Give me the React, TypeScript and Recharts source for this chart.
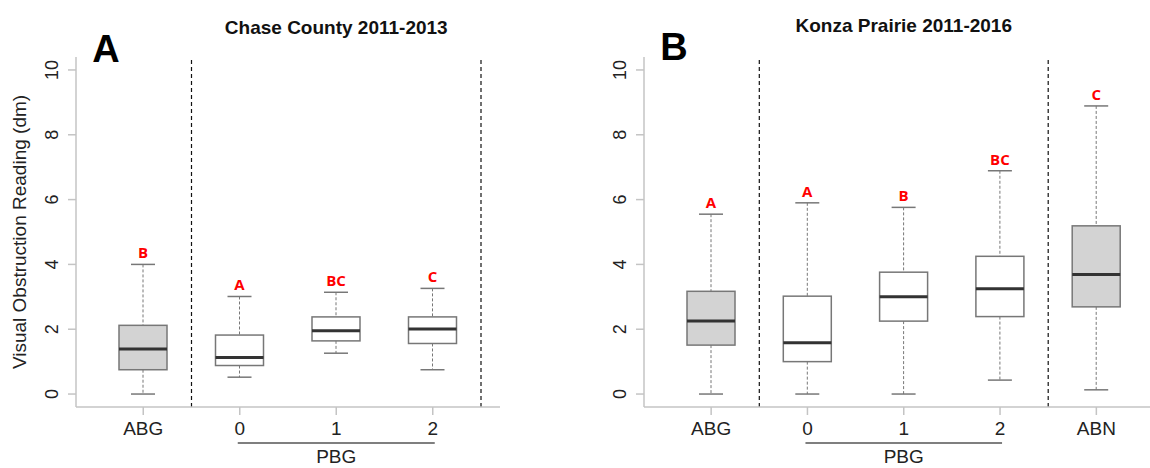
import React from 'react';
import { ComposedChart, Bar, XAxis, YAxis, ReferenceLine, LabelList } from 'recharts';

// Chase County 2011-2013
const catsA = ['ABG', '0', '1', '2'];
const lowA = [0, 0.52, 1.26, 0.75];
const q1A = [0.75, 0.88, 1.64, 1.56];
const medA = [1.39, 1.13, 1.95, 2.01];
const q3A = [2.12, 1.82, 2.38, 2.38];
const highA = [4.0, 3.01, 3.14, 3.26];
const lettersA = ['B', 'A', 'BC', 'C'];

// Konza Prairie 2011-2016
const catsB = ['ABG', '0', '1', '2', 'ABN'];
const lowB = [0, 0, 0, 0.43, 0.13];
const q1B = [1.51, 1.0, 2.25, 2.39, 2.69];
const medB = [2.25, 1.58, 3.0, 3.25, 3.69];
const q3B = [3.17, 3.02, 3.76, 4.25, 5.19];
const highB = [5.55, 5.9, 5.76, 6.89, 8.89];
const lettersB = ['A', 'A', 'B', 'BC', 'C'];

const shadedCats = ['ABG', 'ABN'];
const yTicks = [0, 2, 4, 6, 8, 10];

const FONT = '"Liberation Sans", Arial, sans-serif';
const AXIS_GRAY = '#c4c4c4';

const buildRows = (cats: string[], low: number[], q1: number[], med: number[], q3: number[], high: number[], letters: string[]) =>
  cats.map((name, i) => ({
    name,
    low: low[i],
    q1: q1[i],
    med: med[i],
    q3: q3[i],
    high: high[i],
    letter: letters[i],
    shaded: shadedCats.includes(name),
  }));

const rowsA = buildRows(catsA, lowA, q1A, medA, q3A, highA, lettersA);
const rowsB = buildRows(catsB, lowB, q1B, medB, q3B, highB, lettersB);

const BoxShape = (props: any) => {
  const { x, y, width, height, payload } = props;
  const d = payload;
  const span = d.high - d.low || 1;
  const py = (v: number) => y + (height * (d.high - v)) / span;
  const cx = x + width / 2;
  const cap = width / 4;
  return (
    <g>
      <line x1={cx} x2={cx} y1={py(d.high)} y2={py(d.q3)} stroke="#777" strokeWidth={1} strokeDasharray="3 2" />
      <line x1={cx} x2={cx} y1={py(d.q1)} y2={py(d.low)} stroke="#777" strokeWidth={1} strokeDasharray="3 2" />
      <line x1={cx - cap} x2={cx + cap} y1={py(d.high)} y2={py(d.high)} stroke="#777" strokeWidth={1.5} />
      <line x1={cx - cap} x2={cx + cap} y1={py(d.low)} y2={py(d.low)} stroke="#777" strokeWidth={1.5} />
      <rect x={x} y={py(d.q3)} width={width} height={py(d.q1) - py(d.q3)} fill={d.shaded ? '#d3d3d3' : '#fff'} stroke="#777" strokeWidth={1.5} />
      <line x1={x} x2={x + width} y1={py(d.med)} y2={py(d.med)} stroke="#333" strokeWidth={3} />
    </g>
  );
};

const YTick = (props: any) => {
  const { x, y, payload } = props;
  return (
    <text x={x} y={y} transform={`rotate(-90 ${x} ${y})`} textAnchor="middle" fontSize={18} fontFamily={FONT} fill="#222">
      {payload.value}
    </text>
  );
};

const PAD = 19;
const TOP = 57;
const BOTTOM = 407;

interface PanelProps {
  rows: any[];
  left: number;
  width: number;
  marginLeft: number;
  marginRight: number;
  separators: string[];
}

const BoxPanel: React.FC<PanelProps> = ({ rows, left, width, marginLeft, marginRight, separators }) => (
  <div style={{ position: 'absolute', left, top: 0 }}>
    <ComposedChart
      width={width}
      height={468}
      data={rows}
      margin={{ top: TOP, right: marginRight, bottom: 468 - BOTTOM - 40, left: marginLeft }}
    >
      <XAxis
        dataKey="name"
        interval={0}
        height={40}
        padding={{ left: PAD, right: PAD }}
        tickSize={8}
        tickMargin={7}
        axisLine={{ stroke: AXIS_GRAY, strokeWidth: 1.5 }}
        tickLine={{ stroke: AXIS_GRAY, strokeWidth: 1.5 }}
        tick={{ fontSize: 19, fill: '#222', fontFamily: FONT }}
      />
      <YAxis
        width={60}
        domain={[-0.4, 10.4]}
        ticks={yTicks}
        allowDataOverflow
        tickSize={8}
        tickMargin={10}
        axisLine={{ stroke: AXIS_GRAY, strokeWidth: 1.5 }}
        tickLine={{ stroke: AXIS_GRAY, strokeWidth: 1.5 }}
        tick={<YTick />}
      />
      {separators.map((s) => (
        <ReferenceLine key={s} x={s} position="end" stroke="#111" strokeWidth={1.2} strokeDasharray="4 3" />
      ))}
      <Bar dataKey={(d: any) => [d.low, d.high]} barSize={48} shape={<BoxShape />} isAnimationActive={false}>
        <LabelList dataKey="letter" position="top" offset={6} fill="#ff0000" fontSize={15} fontWeight="bold" fontFamily='"Open Sans", sans-serif' />
      </Bar>
    </ComposedChart>
  </div>
);

// panel geometry (page px)
const panelA = { left: 0, width: 575, marginLeft: 16, marginRight: 75 };
const panelB = { left: 575, width: 600, marginLeft: 9, marginRight: 11.5 };

const tickX = (p: typeof panelA, n: number, i: number) => {
  const plotLeft = p.left + p.marginLeft + 60;
  const plotRight = p.left + p.width - p.marginRight;
  const band = (plotRight - plotLeft - 2 * PAD) / n;
  return plotLeft + PAD + band * (i + 0.5);
};

const App: React.FC = () => {
  const aLeft = panelA.left + panelA.marginLeft + 60;
  const bLeft = panelB.left + panelB.marginLeft + 60;
  return (
    <div style={{ position: 'absolute', left: 0, top: 0, width: 1150, height: 468, overflow: 'hidden', background: '#fff' }}>
      <BoxPanel rows={rowsA} {...panelA} separators={['ABG', '2']} />
      <BoxPanel rows={rowsB} {...panelB} separators={['ABG', '2']} />
      <svg width={1150} height={468} style={{ position: 'absolute', left: 0, top: 0, pointerEvents: 'none' }} fontFamily={FONT}>
        <text x={tickX(panelA, 4, 2)} y={34} textAnchor="middle" fontSize={19} fontWeight="bold" fill="#111">
          Chase County 2011-2013
        </text>
        <text x={tickX(panelB, 5, 2)} y={32} textAnchor="middle" fontSize={19} fontWeight="bold" fill="#111">
          Konza Prairie 2011-2016
        </text>
        <text x={aLeft + 30} y={62} textAnchor="middle" fontSize={38} fontWeight="bold" fill="#000">A</text>
        <text x={bLeft + 30} y={60} textAnchor="middle" fontSize={38} fontWeight="bold" fill="#000">B</text>
        <text x={26} y={232} transform="rotate(-90 26 232)" textAnchor="middle" fontSize={19} fill="#222">
          Visual Obstruction Reading (dm)
        </text>
        <line x1={tickX(panelA, 4, 1) - 2} x2={tickX(panelA, 4, 3) + 2} y1={443} y2={443} stroke="#555" strokeWidth={1.5} />
        <text x={tickX(panelA, 4, 2)} y={463} textAnchor="middle" fontSize={19} fill="#222">PBG</text>
        <line x1={tickX(panelB, 5, 1) - 2} x2={tickX(panelB, 5, 3) + 2} y1={443} y2={443} stroke="#555" strokeWidth={1.5} />
        <text x={tickX(panelB, 5, 2)} y={463} textAnchor="middle" fontSize={19} fill="#222">PBG</text>
      </svg>
    </div>
  );
};

export default App;
